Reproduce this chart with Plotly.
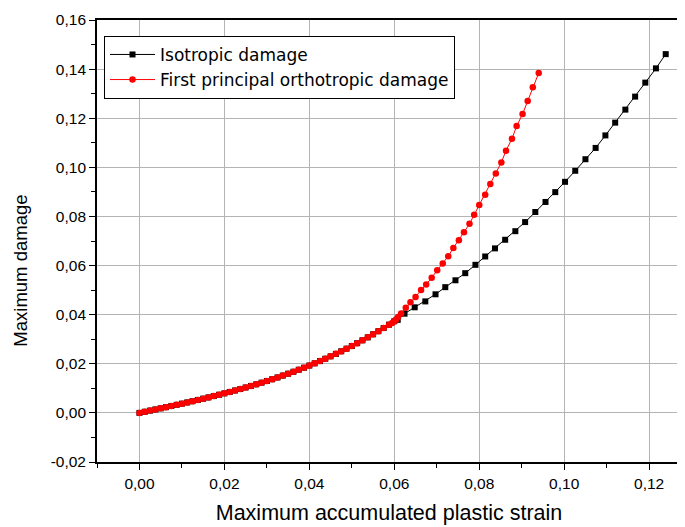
import plotly.graph_objects as go

# ---- data ----
iso_strain = [0.0, 0.00125, 0.0025, 0.00375, 0.005, 0.00625, 0.0075, 0.00875, 0.01, 0.01125,
              0.0125, 0.01375, 0.015, 0.01625, 0.0175, 0.01875, 0.02, 0.02125, 0.0225, 0.02375,
              0.025, 0.02625, 0.0275, 0.02875, 0.03, 0.03125, 0.0325, 0.03375, 0.035, 0.03625,
              0.0375, 0.03875, 0.04, 0.04125, 0.0425, 0.04375, 0.045, 0.04625, 0.0475, 0.04875,
              0.05, 0.05125, 0.0525, 0.05375, 0.055, 0.05625, 0.0575, 0.05875, 0.06,
              0.0608, 0.0624, 0.0648, 0.0673, 0.0697, 0.0720, 0.0744, 0.0767, 0.0791, 0.0814,
              0.0837, 0.0861, 0.0885, 0.0908, 0.0932, 0.0956, 0.0979, 0.1002, 0.1026, 0.1050,
              0.1074, 0.1097, 0.1120, 0.1144, 0.1167, 0.1191, 0.1216, 0.1239]
iso_damage = [0.0, 0.00046, 0.00093, 0.00139, 0.00186, 0.00233, 0.0028, 0.00328, 0.00377, 0.00426,
              0.00476, 0.00527, 0.00579, 0.00631, 0.00685, 0.0074, 0.00796, 0.00853, 0.00912, 0.00973,
              0.01034, 0.01098, 0.01163, 0.0123, 0.01299, 0.0137, 0.01443, 0.01518, 0.01595, 0.01675,
              0.01757, 0.01841, 0.01928, 0.02018, 0.0211, 0.02205, 0.02303, 0.02404, 0.02508, 0.02615,
              0.02725, 0.02839, 0.02955, 0.03076, 0.032, 0.03327, 0.03458, 0.03593, 0.03732,
              0.0379, 0.0404, 0.0430, 0.0454, 0.0483, 0.0512, 0.0540, 0.0569, 0.0603, 0.0637,
              0.0670, 0.0705, 0.0740, 0.0777, 0.0818, 0.0859, 0.0899, 0.0941, 0.0986, 0.1033,
              0.1079, 0.1130, 0.1182, 0.1235, 0.1288, 0.1345, 0.1403, 0.1461]

ortho_strain = [0.0, 0.00125, 0.0025, 0.00375, 0.005, 0.00625, 0.0075, 0.00875, 0.01, 0.01125,
                0.0125, 0.01375, 0.015, 0.01625, 0.0175, 0.01875, 0.02, 0.02125, 0.0225, 0.02375,
                0.025, 0.02625, 0.0275, 0.02875, 0.03, 0.03125, 0.0325, 0.03375, 0.035, 0.03625,
                0.0375, 0.03875, 0.04, 0.04125, 0.0425, 0.04375, 0.045, 0.04625, 0.0475, 0.04875,
                0.05, 0.05125, 0.0525, 0.05375, 0.055, 0.05625, 0.0575, 0.05875,
                0.0595, 0.0600, 0.0604, 0.0609, 0.0616, 0.0627, 0.0638, 0.0650, 0.0663, 0.0675,
                0.0688, 0.0701, 0.0714, 0.0727, 0.0739, 0.0752, 0.0764, 0.0777, 0.0788, 0.0800,
                0.0814, 0.0826, 0.0839, 0.0852, 0.0863, 0.0877, 0.0888, 0.0902, 0.0914, 0.0926, 0.0940]
ortho_damage = [0.0, 0.00046, 0.00093, 0.00139, 0.00186, 0.00233, 0.0028, 0.00328, 0.00377, 0.00426,
                0.00476, 0.00527, 0.00579, 0.00631, 0.00685, 0.0074, 0.00796, 0.00853, 0.00912, 0.00973,
                0.01034, 0.01098, 0.01163, 0.0123, 0.01299, 0.0137, 0.01443, 0.01518, 0.01595, 0.01675,
                0.01757, 0.01841, 0.01928, 0.02018, 0.0211, 0.02205, 0.02303, 0.02404, 0.02508, 0.02615,
                0.02725, 0.02839, 0.02955, 0.03076, 0.032, 0.03327, 0.03458, 0.03593,
                0.0366, 0.0373, 0.0380, 0.0390, 0.0405, 0.0428, 0.0451, 0.0472, 0.0500, 0.0523,
                0.0550, 0.0581, 0.0608, 0.0638, 0.0672, 0.0703, 0.0736, 0.0770, 0.0807, 0.0847,
                0.0888, 0.0932, 0.0975, 0.1020, 0.1068, 0.1116, 0.1168, 0.1217, 0.1270, 0.1326, 0.1384]

series_names = ["Isotropic damage", "First principal orthotropic damage"]

x_tickvals = [0.0, 0.02, 0.04, 0.06, 0.08, 0.10, 0.12]
x_ticktext = ["0,00", "0,02", "0,04", "0,06", "0,08", "0,10", "0,12"]
y_tickvals = [-0.02, 0.0, 0.02, 0.04, 0.06, 0.08, 0.10, 0.12, 0.14, 0.16]
y_ticktext = ["-0,02", "0,00", "0,02", "0,04", "0,06", "0,08", "0,10", "0,12", "0,14", "0,16"]

x_title = "Maximum accumulated plastic strain"
y_title = "Maximum damage"

# ---- figure ----
fig = go.Figure()
fig.add_trace(go.Scatter(
    x=iso_strain, y=iso_damage, name=series_names[0], mode="lines+markers",
    line=dict(color="black", width=1),
    marker=dict(symbol="square", size=6, color="black"),
))
fig.add_trace(go.Scatter(
    x=ortho_strain, y=ortho_damage, name=series_names[1], mode="lines+markers",
    line=dict(color="#ff0000", width=1),
    marker=dict(symbol="circle", size=6.5, color="#ff0000"),
))

axis_font = dict(family="Liberation Sans, Arial, sans-serif", size=15.5, color="black")

fig.update_xaxes(
    range=[-0.01, 0.1275], tickmode="array", tickvals=x_tickvals, ticktext=x_ticktext,
    ticks="outside", ticklen=6, tickwidth=1.2, tickcolor="black",
    minor=dict(ticks="outside", ticklen=4, tickwidth=1.2, tickcolor="black", dtick=0.01, tick0=0, showgrid=False),
    showline=True, linecolor="black", linewidth=1.8, mirror=True,
    showgrid=True, gridcolor="#b4b4b4", gridwidth=1, zeroline=False,
    tickfont=axis_font,
    title=dict(text=x_title, font=dict(family="Liberation Sans, Arial, sans-serif", size=21.5, color="black"), standoff=14),
)
fig.update_yaxes(
    range=[-0.02, 0.16], tickmode="array", tickvals=y_tickvals, ticktext=y_ticktext,
    ticks="outside", ticklen=6, tickwidth=1.2, tickcolor="black",
    minor=dict(ticks="outside", ticklen=4, tickwidth=1.2, tickcolor="black", dtick=0.01, tick0=0, showgrid=False),
    showline=True, linecolor="black", linewidth=1.8, mirror=True,
    showgrid=True, gridcolor="#b4b4b4", gridwidth=1, zeroline=False,
    tickfont=axis_font,
)

# y-axis title placed as in the reference (slightly below the plot's vertical centre)
fig.add_annotation(
    text=y_title, textangle=-90, showarrow=False,
    xref="paper", yref="paper", x=-0.131, y=0.434, xanchor="center", yanchor="middle",
    font=dict(family="Liberation Sans, Arial, sans-serif", size=18.5, color="black"),
)

# page body has an 8px margin, so the figure is sized/margined to place the plot area
fig.update_layout(
    width=677, height=519,
    margin=dict(l=89, r=2, t=12, b=65),
    paper_bgcolor="white", plot_bgcolor="white",
    showlegend=True,
    legend=dict(
        x=0.012, y=0.964, xanchor="left", yanchor="top",
        bgcolor="white", bordercolor="black", borderwidth=1,
        font=dict(family="DejaVu Sans, sans-serif", size=17, color="black"),
        itemwidth=45, tracegroupgap=0,
    ),
)

fig.write_html("out.html")
